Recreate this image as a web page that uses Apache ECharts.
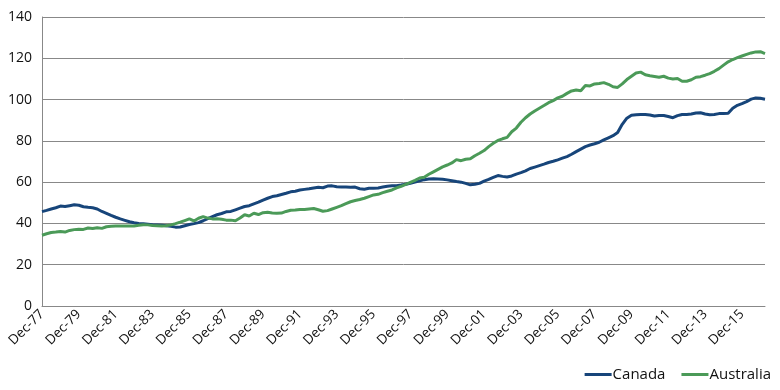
<!DOCTYPE html>
<html><head><meta charset="utf-8">
<script src="https://cdn.jsdelivr.net/npm/echarts@6/dist/echarts.min.js"></script>
<style>html,body{margin:0;padding:0;background:#fff}#c{width:780px;height:390px}</style>
</head><body><div id="c"></div>
<script>
// Quarterly categories from Dec-77 to Mar-17
const months = ["Dec","Mar","Jun","Sep"];
const categories = [];
for (let i = 0; i < 158; i++) {
  const q = i % 4;
  const yr = 1977 + Math.floor((i + 3) / 4);
  categories.push(months[q] + "-" + String(yr).slice(2));
}
const canada = [45.7,46.3,47.0,47.6,48.4,48.2,48.6,49.0,48.8,48.1,47.8,47.6,47.0,45.8,44.9,43.9,43.0,42.2,41.5,40.8,40.3,40.0,39.8,39.6,39.4,39.3,39.1,38.9,38.6,38.2,38.3,38.9,39.5,39.9,40.4,41.3,42.3,43.3,44.2,44.8,45.6,45.8,46.6,47.4,48.2,48.6,49.5,50.3,51.3,52.2,53.0,53.4,54.0,54.6,55.3,55.6,56.2,56.5,56.8,57.2,57.5,57.3,58.1,58.2,57.8,57.6,57.6,57.5,57.6,56.8,56.6,57.0,57.1,57.2,57.6,58.0,58.2,58.3,58.6,59.0,59.5,60.0,60.6,61.2,61.5,61.6,61.5,61.4,61.1,60.7,60.3,60.0,59.4,58.7,59.0,59.4,60.5,61.3,62.3,63.2,62.8,62.5,63.0,63.9,64.6,65.5,66.6,67.3,68.0,68.7,69.5,70.1,70.8,71.6,72.4,73.5,74.8,76.0,77.2,78.0,78.6,79.3,80.5,81.5,82.5,84.0,88.0,91.0,92.4,92.6,92.8,92.8,92.5,92.0,92.3,92.3,91.8,91.2,92.2,92.8,92.8,93.0,93.5,93.6,93.0,92.6,92.8,93.2,93.2,93.4,95.8,97.2,98.0,99.0,100.2,100.8,100.6,100.2];
const australia = [34.3,35.0,35.6,35.8,36.1,35.8,36.6,37.0,37.2,37.1,37.8,37.5,37.9,37.6,38.4,38.6,38.7,38.7,38.7,38.7,38.8,39.1,39.4,39.3,39.0,38.9,38.7,38.9,39.3,39.9,40.6,41.4,42.2,41.2,42.5,43.3,42.6,42.2,42.3,42.0,41.6,41.6,41.3,42.6,44.2,43.6,44.9,44.3,45.2,45.4,45.1,44.9,45.0,45.8,46.4,46.5,46.8,46.8,47.0,47.2,46.6,45.9,46.2,47.0,47.8,48.6,49.6,50.5,51.1,51.6,52.2,53.0,53.8,54.1,54.9,55.6,56.2,57.2,58.0,58.9,59.9,60.9,62.0,62.4,63.8,65.0,66.2,67.4,68.3,69.3,70.9,70.4,71.1,71.3,72.8,74.0,75.3,77.2,78.8,80.2,81.0,81.7,84.4,86.2,89.0,91.2,93.0,94.5,95.8,97.1,98.5,99.5,100.8,101.6,103.0,104.2,104.6,104.3,106.8,106.6,107.6,107.8,108.2,107.4,106.2,105.9,107.6,109.7,111.3,112.9,113.3,112.0,111.5,111.2,110.8,111.3,110.4,110.0,110.2,108.9,108.9,109.6,110.8,111.1,111.8,112.6,113.7,115.0,116.7,118.3,119.4,120.3,121.1,121.9,122.6,123.1,123.2,122.3];
const seriesNames = ["Canada","Australia"];
const colors = ["#17457a","#4b9a58"];

const chart = echarts.init(document.getElementById('c'), null, {renderer:'canvas'});
const font = '"Open Sans", "Noto Sans", sans-serif';
chart.setOption({
  animation:false,
  backgroundColor:'#ffffff',
  grid:{left:42,right:15,top:17,bottom:84,containLabel:false},
  legend:{
    right:4, bottom:3, itemWidth:27, itemHeight:3, itemGap:16, icon:'rect',
    textStyle:{fontFamily:font,fontSize:15,color:'#111',padding:[0,0,0,-4]},
    data:seriesNames
  },
  xAxis:{
    type:'category', data:categories, boundaryGap:false,
    axisLine:{lineStyle:{color:'#888',width:1}},
    axisTick:{show:false},
    axisLabel:{interval:7, rotate:45, fontFamily:font, fontSize:13.5, color:'#111', margin:6},
    splitLine:{show:false}
  },
  yAxis:{
    type:'value', min:0, max:140, interval:20,
    axisLine:{show:true,lineStyle:{color:'#888',width:1}},
    axisTick:{show:false},
    axisLabel:{fontFamily:font, fontSize:14, color:'#111', margin:10},
    splitLine:{lineStyle:{color:'#888',width:1}}
  },
  series:[
    {name:seriesNames[0], type:'line', data:canada, showSymbol:false, symbol:'none', lineStyle:{color:colors[0],width:3}, itemStyle:{color:colors[0]}},
    {name:seriesNames[1], type:'line', data:australia, showSymbol:false, symbol:'none', lineStyle:{color:colors[1],width:3}, itemStyle:{color:colors[1]}}
  ]
});
</script></body></html>
